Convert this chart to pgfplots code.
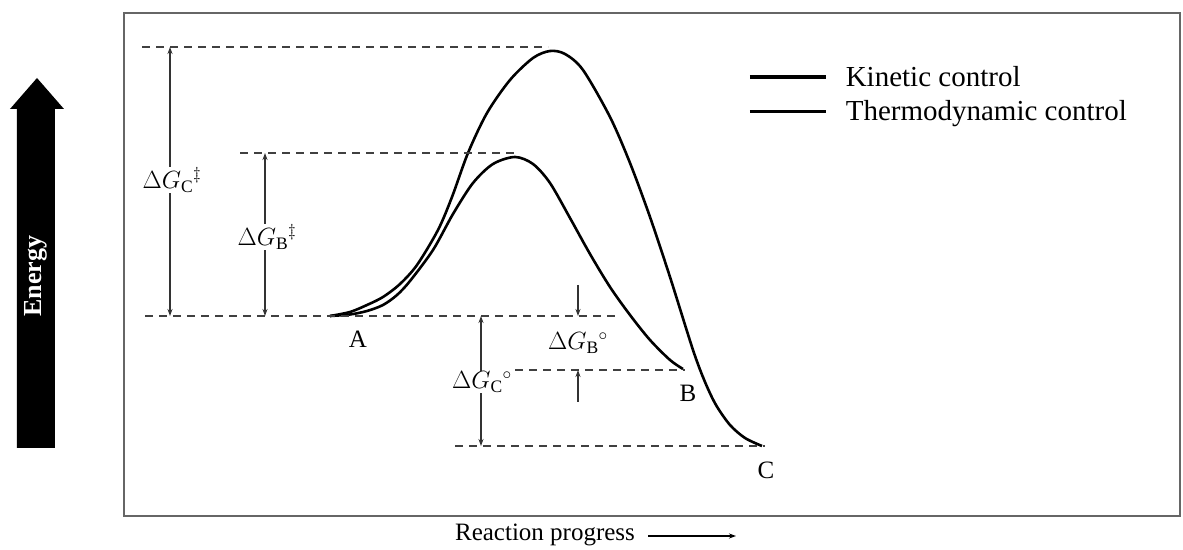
\documentclass[border=0pt]{standalone}
\usepackage{pgfplots}
\pgfplotsset{compat=1.18}
\usetikzlibrary{arrows.meta}
\usepackage{fontspec}
\setmainfont{Liberation Serif}

\begin{document}
\begin{tikzpicture}[>={Stealth[length=7pt,width=5pt]},
    dashline/.style={black!75, line width=1.6pt, dash pattern=on 8pt off 6pt},
    dim/.style={black!80, line width=1.3pt},
    lab/.style={fill=white, inner sep=1pt, font=\fontsize{25}{27}\selectfont}]
\begin{axis}[
    scale only axis, width=1056pt, height=503pt,
    xmin=124, xmax=1180, ymin=-516, ymax=-13,
    axis line style={black!60, line width=2pt},
    xtick=\empty, ytick=\empty,
    clip=false,
    legend style={at={(axis cs:745,-62)}, anchor=north west, draw=none, fill=none,
                  font=\fontsize{29}{31}\selectfont, row sep=9pt},
    legend cell align=left,
    legend image code/.code={
      \draw[#1, line width=3.2pt] (0pt,0pt) -- (76pt,0pt);
      \path[draw=none, fill=none] (0pt,-1pt) rectangle (94pt,1pt);},
  ]
  % curve to B
  \addplot[black, line width=2.6pt, smooth] coordinates {
    (330,-316) (350,-314.5) (367,-311) (383,-305) (397,-295) (410,-281) (433,-250)
    (453,-214) (473,-183) (493,-164) (515,-157) (533,-164) (550,-183) (570,-218)
    (590,-254) (610,-287) (630,-315) (650,-340) (670,-360) (683,-369)};
  \addlegendentry{Kinetic control}
  % curve to C
  \addplot[black, line width=2.6pt, smooth] coordinates {
    (330,-316) (350,-312) (367,-305) (383,-297) (400,-284) (417,-265) (438,-230)
    (452,-197) (468,-153) (487,-113) (510,-80) (533,-58) (550,-51) (565,-54)
    (583,-70) (610,-117) (630,-163) (650,-217) (670,-277) (693,-350) (705,-382)
    (716,-405) (730,-425) (745,-438) (762,-446)};
  \addlegendentry{Thermodynamic control}

  % energy levels
  \addplot[dashline, forget plot] coordinates {(142,-47) (548,-47)};
  \addplot[dashline, forget plot] coordinates {(240,-153) (515,-153)};
  \addplot[dashline, forget plot] coordinates {(145,-316) (617,-316)};
  \addplot[dashline, forget plot] coordinates {(515,-370) (685,-370)};
  \addplot[dashline, forget plot] coordinates {(455,-446) (765,-446)};

  % dimension arrows
  \addplot[dim, <->, forget plot] coordinates {(170,-47) (170,-316)};
  \addplot[dim, <->, forget plot] coordinates {(265,-153) (265,-316)};
  \addplot[dim, <->, forget plot] coordinates {(481,-316) (481,-446)};
  \addplot[dim, ->, forget plot] coordinates {(578,-285) (578,-316)};
  \addplot[dim, ->, forget plot] coordinates {(578,-402) (578,-370)};

  \node[lab] at (axis cs:172,-180) {$\Delta G_{\mathrm{C}}{}^{\ddagger}$};
  \node[lab] at (axis cs:267,-237) {$\Delta G_{\mathrm{B}}{}^{\ddagger}$};
  \node[lab] at (axis cs:482,-382) {$\Delta G_{\mathrm{C}}{}^{\circ}$};
  \node[lab] at (axis cs:578,-343) {$\Delta G_{\mathrm{B}}{}^{\circ}$};

  \node[font=\fontsize{25}{27}\selectfont] at (axis cs:358,-339) {A};
  \node[font=\fontsize{25}{27}\selectfont] at (axis cs:688,-393) {B};
  \node[font=\fontsize{25}{27}\selectfont] at (axis cs:766,-470) {C};

  % x label
  \node[font=\fontsize{25}{27}\selectfont] at (axis cs:545,-535) {Reaction progress};
  \addplot[black, line width=1.3pt, ->, forget plot] coordinates {(648,-536) (736,-536)};

  % energy arrow
  \addplot[fill=black, draw=none, forget plot] coordinates {
    (17,-448) (55,-448) (55,-109) (64,-109) (37,-78) (10,-109) (17,-109)};
  \node[rotate=90, text=white, font=\bfseries\fontsize{26}{28}\selectfont] at (axis cs:36,-276) {Energy};

  \path (axis cs:0,0) rectangle (axis cs:1183,-548);
\end{axis}
\end{tikzpicture}
\end{document}
